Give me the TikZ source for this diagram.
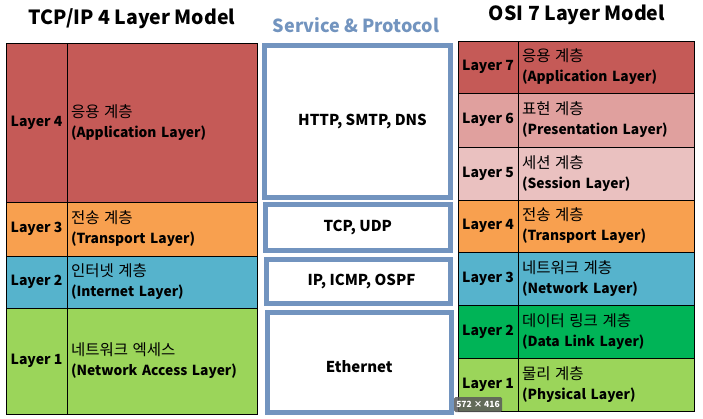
\documentclass[tikz,border=0pt]{standalone}
\usepackage{fontspec}
\setmainfont{Noto Sans CJK KR}
\usepackage{tikz}
\usetikzlibrary{positioning}

\definecolor{appred}{HTML}{C55A57}
\definecolor{presred}{HTML}{E0A09E}
\definecolor{sessred}{HTML}{EAC1C0}
\definecolor{transor}{HTML}{F8A04F}
\definecolor{netblue}{HTML}{56B3CC}
\definecolor{linkgreen}{HTML}{00B457}
\definecolor{physgreen}{HTML}{9BD55A}
\definecolor{protoblue}{HTML}{7294BF}

\newcommand{\kr}[1]{{\mdseries\fontsize{15.5}{20}\selectfont #1}}

\begin{document}
\begin{tikzpicture}[x=1pt, y=-1pt,
    title/.style={font=\fontsize{19.5}{24}\selectfont\bfseries, anchor=base, inner sep=0pt},
    num/.style={draw, fill=#1, line width=0.8pt, inner sep=0pt, font=\fontsize{14}{16}\selectfont\bfseries},
    cell/.style={draw, fill=#1, line width=0.8pt, inner xsep=4pt, inner ysep=0pt, align=left, font=\fontsize{13.8}{20}\selectfont\bfseries},
    proto/.style={draw=protoblue, fill=white, line width=5pt, inner sep=0pt, font=\fontsize{15}{17}\selectfont\bfseries},
]
\useasboundingbox[fill=white] (0,0) rectangle (703,419);

% Titles
\node[title] (ttl) at (132,25) {TCP/IP 4 Layer Model};
\node[title, text=protoblue, font=\fontsize{18}{21}\selectfont\bfseries] (stl) at (356,33) {Service \& Protocol};
\node[title] (otl) at (577,21) {OSI 7 Layer Model};

% TCP/IP layers
\node[num=appred, minimum width=61, minimum height=159] (t4) at (36.5,122.5) {Layer 4};
\node[cell=appred, minimum height=159, text width=182] (t4c) at (162,122.5) {\kr{응용 계층}\\(Application Layer)};
\node[num=transor, minimum width=61, minimum height=54] (t3) at (36.5,229) {Layer 3};
\node[cell=transor, minimum height=54, text width=182] (t3c) at (162,229) {\kr{전송 계층}\\(Transport Layer)};
\node[num=netblue, minimum width=61, minimum height=52] (t2) at (36.5,282) {Layer 2};
\node[cell=netblue, minimum height=52, text width=182] (t2c) at (162,282) {\kr{인터넷 계층}\\(Internet Layer)};
\node[num=physgreen, minimum width=61, minimum height=106] (t1) at (36.5,361) {Layer 1};
\node[cell=physgreen, minimum height=106, text width=182] (t1c) at (162,361) {\kr{네트워크 엑세스}\\(Network Access Layer)};

% Services and protocols
\node[proto, minimum width=186, minimum height=152] (p4) at (357.5,121.5) {\hspace{10pt}HTTP, SMTP, DNS};
\node[proto, minimum width=185.5, minimum height=46] (p3) at (357.75,228) {TCP, UDP};
\node[proto, minimum width=184, minimum height=44] (p2) at (358.5,281.5) {\hspace{6pt}IP, ICMP, OSPF};
\node[proto, minimum width=183.5, minimum height=100] (p1) at (359.25,362.5) {\raisebox{-10pt}[0pt][0pt]{Ethernet}};

% OSI layers
\node[num=appred, minimum width=60, minimum height=52] (o7) at (488,67) {Layer 7};
\node[cell=appred, minimum height=52, text width=168] (o7c) at (606,67) {\kr{응용 계층}\\(Application Layer)};
\node[num=presred, minimum width=60, minimum height=54] (o6) at (488,120) {Layer 6};
\node[cell=presred, minimum height=54, text width=168] (o6c) at (606,120) {\kr{표현 계층}\\(Presentation Layer)};
\node[num=sessred, minimum width=60, minimum height=53] (o5) at (488,173.5) {Layer 5};
\node[cell=sessred, minimum height=53, text width=168] (o5c) at (606,173.5) {\kr{세션 계층}\\(Session Layer)};
\node[num=transor, minimum width=60, minimum height=52] (o4) at (488,226) {Layer 4};
\node[cell=transor, minimum height=52, text width=168] (o4c) at (606,226) {\kr{전송 계층}\\(Transport Layer)};
\node[num=netblue, minimum width=60, minimum height=53] (o3) at (488,278.5) {Layer 3};
\node[cell=netblue, minimum height=53, text width=168] (o3c) at (606,278.5) {\kr{네트워크 계층}\\(Network Layer)};
\node[num=linkgreen, minimum width=60, minimum height=53] (o2) at (488,331.5) {Layer 2};
\node[cell=linkgreen, minimum height=53, text width=168] (o2c) at (606,331.5) {\kr{데이터 링크 계층}\\(Data Link Layer)};
\node[num=physgreen, minimum width=60, minimum height=53] (o1) at (488,384.5) {Layer 1};
\node[cell=physgreen, minimum height=53, text width=168] (o1c) at (606,384.5) {\kr{물리 계층}\\(Physical Layer)};

% Size badge
\node[fill=black!65, fill opacity=0.85, text opacity=1, text=white, rounded corners=1.5pt, minimum width=48, minimum height=15, inner sep=0pt, font=\fontsize{8.5}{9}\selectfont\bfseries] (badge) at (478,404.5) {572 × 416};
\end{tikzpicture}
\end{document}
